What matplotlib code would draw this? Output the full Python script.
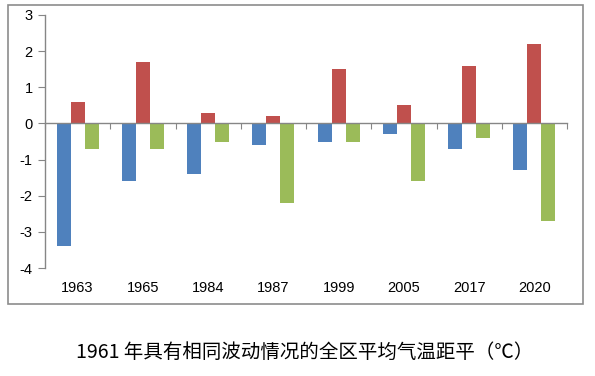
import numpy as np
import matplotlib.pyplot as plt
from matplotlib.patches import Rectangle

years = ['1963', '1965', '1984', '1987', '1999', '2005', '2017', '2020']
blue_vals = [-3.4, -1.6, -1.4, -0.6, -0.5, -0.3, -0.7, -1.3]
red_vals = [0.6, 1.7, 0.3, 0.2, 1.5, 0.5, 1.6, 2.2]
green_vals = [-0.7, -0.7, -0.5, -2.2, -0.5, -1.6, -0.4, -2.7]
caption = '1961 年具有相同波动情况的全区平均气温距平（℃）'

fig = plt.figure(figsize=(5.95, 3.76), dpi=100)

# chart border
fig.patches.append(Rectangle((8 / 595, 1 - 304 / 376), 575 / 595, 299 / 376,
                             transform=fig.transFigure, fill=False,
                             edgecolor='#8c8c8c', linewidth=1.2))

ax = fig.add_axes([45 / 595, 1 - 268 / 376, 522 / 595, 253 / 376])
x = np.arange(len(years))
w = 0.215
ax.bar(x - w, blue_vals, w, color='#4F81BD')
ax.bar(x, red_vals, w, color='#C0504D')
ax.bar(x + w, green_vals, w, color='#9BBB59')

ax.set_xlim(-0.5, len(years) - 0.5)
ax.set_ylim(-4, 3)
ax.set_yticks(range(-4, 4))
ax.set_yticklabels([str(v) for v in range(-4, 4)], fontsize=10.5, family='Liberation Sans')

for s in ['top', 'right']:
    ax.spines[s].set_visible(False)
ax.spines['bottom'].set_position(('data', 0))
for s in ['left', 'bottom']:
    ax.spines[s].set_color('#868686')
    ax.spines[s].set_linewidth(1)

ax.set_xticks(np.arange(len(years) + 1) - 0.5)
ax.set_xticklabels([])
ax.tick_params(axis='x', direction='out', length=4, color='#868686')
ax.tick_params(axis='y', direction='out', length=5, color='#868686', pad=4)

for i, yr in enumerate(years):
    ax.text(i, -0.08, yr, transform=ax.get_xaxis_transform(), ha='center', va='center',
            fontsize=10.5, family='Liberation Sans')

fig.text(305 / 595, 1 - 352 / 376, caption, ha='center', va='center', fontsize=14,
         family=['Noto Sans CJK SC', 'DejaVu Sans'])

fig.savefig('out.png', dpi=100)
